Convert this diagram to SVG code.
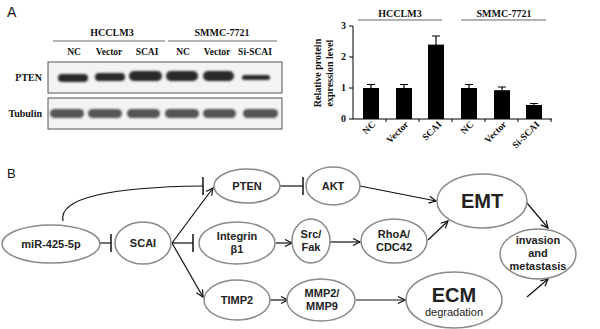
<svg xmlns="http://www.w3.org/2000/svg" width="600" height="329" viewBox="0 0 600 329">
<style>
.lbl{font-family:"Liberation Sans",Arial,sans-serif;fill:#111}
.tnr{font-family:"Liberation Serif","Times New Roman",serif;font-weight:bold;fill:#111}
.node ellipse{fill:#fff;stroke:#8a8a8a;stroke-width:1.5}
.node text{font-family:"Liberation Sans",Arial,sans-serif;font-weight:bold;font-size:11px;fill:#222;text-anchor:middle}
.con{fill:none;stroke:#111;stroke-width:1.2}
.band{fill:#2a2a2a}
.tub{fill:#555}
.bar{fill:#000}
.err{stroke:#000;stroke-width:1.2;fill:none}
</style>
<defs>
<marker id="arr" markerWidth="10" markerHeight="10" refX="8" refY="4" orient="auto" markerUnits="userSpaceOnUse">
<path d="M1,0.5 L8,4 L1,7.5" fill="none" stroke="#111" stroke-width="1.2"/>
</marker>
<marker id="inh" markerWidth="4" markerHeight="20" refX="2" refY="10" orient="auto" markerUnits="userSpaceOnUse">
<line x1="2" y1="1" x2="2" y2="19" stroke="#111" stroke-width="1.5"/>
</marker>
<filter id="blur" x="-10%" y="-50%" width="120%" height="200%"><feGaussianBlur stdDeviation="0.8"/></filter>
</defs>
<rect width="600" height="329" fill="#fff"/>

<!-- Panel A: western blot -->
<text class="lbl" x="7" y="17" font-size="14">A</text>
<g id="blot">
<text class="tnr" x="112" y="36" font-size="10" text-anchor="middle">HCCLM3</text>
<text class="tnr" x="222" y="36" font-size="10" text-anchor="middle">SMMC-7721</text>
<line x1="53" y1="41" x2="165" y2="41" stroke="#666" stroke-width="1"/>
<line x1="168" y1="41" x2="277" y2="41" stroke="#666" stroke-width="1"/>
<g class="tnr" font-size="9.5" text-anchor="middle">
<text x="74" y="55">NC</text><text x="109" y="55">Vector</text><text x="147" y="55">SCAI</text>
<text x="183" y="55">NC</text><text x="217" y="55">Vector</text><text x="255" y="55">Si-SCAI</text>
</g>
<text class="tnr" x="42" y="81" font-size="10" text-anchor="end">PTEN</text>
<text class="tnr" x="42" y="117" font-size="10" text-anchor="end">Tubulin</text>
<rect x="48" y="62" width="234" height="31" fill="#f3f3f3" stroke="#555" stroke-width="1"/>
<rect x="48" y="98" width="234" height="31" fill="#f3f3f3" stroke="#555" stroke-width="1"/>
<g filter="url(#blur)">
<rect class="band" x="58" y="74" width="30" height="8" rx="4"/>
<rect class="band" x="95" y="73" width="30" height="8" rx="4"/>
<rect class="band" x="129" y="71" width="33" height="10" rx="5"/>
<rect class="band" x="166" y="71" width="32" height="10" rx="5"/>
<rect class="band" x="203" y="71" width="31" height="10" rx="5"/>
<rect class="band" x="242" y="75" width="28" height="5" rx="2.5"/>
<rect class="tub" x="50" y="109" width="34" height="9" rx="4.5"/>
<rect class="tub" x="88" y="109" width="34" height="9" rx="4.5"/>
<rect class="tub" x="127" y="109" width="33" height="9" rx="4.5"/>
<rect class="tub" x="165" y="109" width="34" height="9" rx="4.5"/>
<rect class="tub" x="203" y="109" width="33" height="9" rx="4.5"/>
<rect class="tub" x="243" y="109" width="35" height="9" rx="4.5"/>
</g>
</g>

<!-- Panel A: bar chart -->
<g id="chart">
<text class="tnr" x="400" y="17" font-size="10" text-anchor="middle">HCCLM3</text>
<text class="tnr" x="504" y="17" font-size="10" text-anchor="middle">SMMC-7721</text>
<line x1="358" y1="20" x2="442" y2="20" stroke="#666" stroke-width="1"/>
<line x1="461" y1="20" x2="546" y2="20" stroke="#666" stroke-width="1"/>
<text class="tnr" font-size="10" text-anchor="middle" transform="translate(321,73) rotate(-90)">Relative protein</text>
<text class="tnr" font-size="10" text-anchor="middle" transform="translate(333,73) rotate(-90)">expression level</text>
<g class="tnr" font-size="10" text-anchor="end">
<text x="346" y="29">3</text><text x="346" y="60">2</text><text x="346" y="91">1</text><text x="346" y="122">0</text>
</g>
<path d="M353,26 V119 H552 M349,26 H353 M349,57 H353 M349,88 H353 M349,119 H353 M386,119 V122 M419,119 V122 M452,119 V122 M485,119 V122 M518,119 V122 M551,119 V122" stroke="#000" stroke-width="1" fill="none"/>
<rect class="bar" x="363" y="88" width="16" height="31"/>
<rect class="bar" x="396" y="88" width="16" height="31"/>
<rect class="bar" x="428" y="44.6" width="16" height="74.4"/>
<rect class="bar" x="461" y="88" width="16" height="31"/>
<rect class="bar" x="494" y="90.2" width="16" height="28.8"/>
<rect class="bar" x="526" y="105" width="16" height="14"/>
<path class="err" d="M371,88 V84.5 M367,84.5 H375 M404,88 V84.5 M400,84.5 H408 M436,45 V36 M432,36 H440 M469,88 V84.5 M465,84.5 H473 M502,90 V87 M498,87 H506 M534,105 V103.5 M530,103.5 H538"/>
<g class="tnr" font-size="9.5" text-anchor="end">
<text transform="translate(376,125) rotate(-45)">NC</text>
<text transform="translate(409,125) rotate(-45)">Vector</text>
<text transform="translate(442,125) rotate(-45)">SCAI</text>
<text transform="translate(474,125) rotate(-45)">NC</text>
<text transform="translate(507,125) rotate(-45)">Vector</text>
<text transform="translate(540,125) rotate(-45)">Si-SCAI</text>
</g>
</g>

<!-- Panel B -->
<text class="lbl" x="7" y="178" font-size="13">B</text>
<g id="connectors">
<path class="con" d="M63,221 C58,198 110,187 203,186" marker-end="url(#inh)"/>
<line class="con" x1="100" y1="243" x2="111" y2="243" marker-end="url(#inh)"/>
<line class="con" x1="172" y1="243" x2="213" y2="188" marker-end="url(#arr)"/>
<line class="con" x1="172" y1="243" x2="193" y2="243" marker-end="url(#inh)"/>
<line class="con" x1="172" y1="243" x2="203" y2="297" marker-end="url(#arr)"/>
<line class="con" x1="280" y1="186" x2="303" y2="186" marker-end="url(#inh)"/>
<line class="con" x1="276" y1="243" x2="292" y2="243" marker-end="url(#arr)"/>
<line class="con" x1="270" y1="300" x2="288" y2="300" marker-end="url(#arr)"/>
<line class="con" x1="330" y1="242" x2="360" y2="242" marker-end="url(#arr)"/>
<line class="con" x1="360" y1="186" x2="436" y2="201" marker-end="url(#arr)"/>
<line class="con" x1="428" y1="240" x2="448" y2="221" marker-end="url(#arr)"/>
<line class="con" x1="356" y1="300" x2="405" y2="300" marker-end="url(#arr)"/>
<line class="con" x1="527" y1="203" x2="548" y2="228" marker-end="url(#arr)"/>
<line class="con" x1="527" y1="297" x2="548" y2="279" marker-end="url(#arr)"/>
</g>
<g id="mir" class="node"><ellipse cx="51" cy="244" rx="49" ry="19"/><text x="51" y="248">miR-425-5p</text></g>
<g id="scai" class="node"><ellipse cx="143" cy="243" rx="28" ry="21"/><text x="143" y="247">SCAI</text></g>
<g id="pten" class="node"><ellipse cx="247" cy="186" rx="33" ry="17"/><text x="247" y="190">PTEN</text></g>
<g id="integrin" class="node"><ellipse cx="237" cy="243" rx="38" ry="21"/><text x="237" y="240">Integrin</text><text x="237" y="253">β1</text></g>
<g id="timp2" class="node"><ellipse cx="237" cy="300" rx="33" ry="20"/><text x="237" y="304">TIMP2</text></g>
<g id="akt" class="node"><ellipse cx="333" cy="186" rx="27" ry="19"/><text x="333" y="190">AKT</text></g>
<g id="srcfak" class="node"><ellipse cx="311" cy="241" rx="19" ry="22"/><text x="311" y="238">Src/</text><text x="311" y="251">Fak</text></g>
<g id="rhoa" class="node"><ellipse cx="394" cy="241" rx="33" ry="22"/><text x="394" y="238">RhoA/</text><text x="394" y="251">CDC42</text></g>
<g id="mmp" class="node"><ellipse cx="321" cy="300" rx="34" ry="21"/><text x="322" y="297">MMP2/</text><text x="322" y="310">MMP9</text></g>
<g id="emt" class="node"><ellipse cx="482" cy="201" rx="45" ry="27"/><text x="482" y="208" style="font-size:20px">EMT</text></g>
<g id="ecm" class="node"><ellipse cx="454" cy="300" rx="48" ry="28"/><text x="454" y="302" style="font-size:20px">ECM</text><text x="454" y="316" style="font-weight:normal">degradation</text></g>
<g id="invasion" class="node"><ellipse cx="538" cy="254" rx="38" ry="25"/><text x="538" y="244">invasion</text><text x="538" y="257">and</text><text x="538" y="270">metastasis</text></g>
</svg>
